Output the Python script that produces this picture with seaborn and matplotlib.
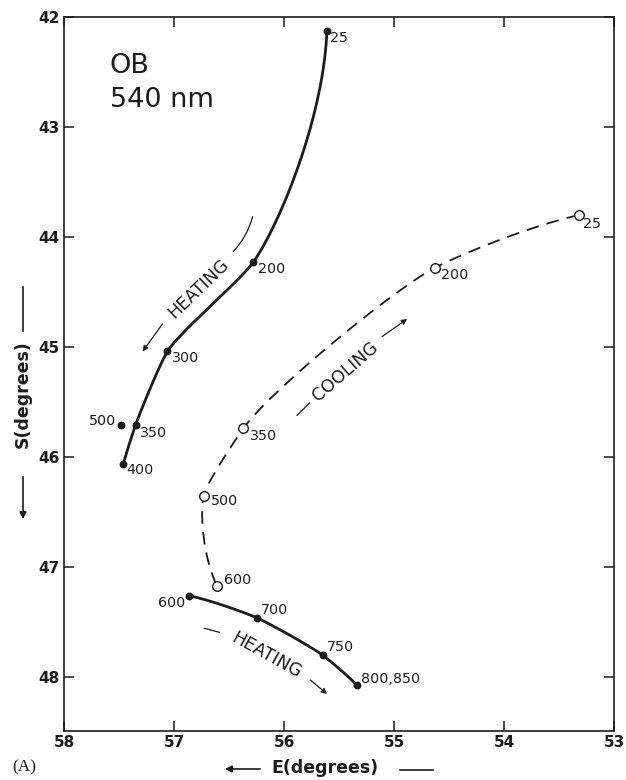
import numpy as np
import pandas as pd
import matplotlib
matplotlib.use("Agg")
import matplotlib.pyplot as plt
import seaborn as sns

# ---------------- data ----------------
heat1_T = ["25", "200", "300", "350", "400"]
heat1_E = [55.61, 56.28, 57.06, 57.35, 57.46]
heat1_S = [42.13, 44.23, 45.04, 45.71, 46.06]

iso_T = ["500"]
iso_E = [57.48]
iso_S = [45.71]

cool_T = ["25", "200", "350", "500", "600"]
cool_E = [53.32, 54.63, 56.37, 56.73, 56.61]
cool_S = [43.80, 44.28, 45.74, 46.35, 47.17]

heat2_T = ["600", "700", "750", "800,850"]
heat2_E = [56.86, 56.25, 55.65, 55.34]
heat2_S = [47.26, 47.46, 47.80, 48.07]

x_ticks = [58, 57, 56, 55, 54, 53]
y_ticks = [42, 43, 44, 45, 46, 47, 48]

# label offsets in pixels (dx right, dy down)
heat1_off = [(3, 7), (5, 7), (5, 7), (4, 8), (3, 6)]
iso_off = [(-5, -4)]
cool_off = [(4, 9), (6, 7), (7, 8), (7, 5), (7, -6)]
heat2_off = [(-4, 7), (4, -8), (4, -8), (4, -6)]

INK = "#1c1c1c"


def smooth(E, S, n=40, tension=0.55):
    P = np.column_stack([E, S]).astype(float)
    d = np.linalg.norm(np.diff(P, axis=0), axis=1)
    sl = np.diff(P, axis=0) / d[:, None]
    m = np.zeros_like(P)
    for i in range(1, len(P) - 1):
        h0, h1 = d[i - 1], d[i]
        m[i] = tension * (h1 * sl[i - 1] + h0 * sl[i]) / (h0 + h1)
    if len(P) > 2:
        m[0] = sl[0] + (sl[0] - sl[1]) * d[0] / (d[0] + d[1])
        m[-1] = sl[-1] + (sl[-1] - sl[-2]) * d[-1] / (d[-2] + d[-1])
    else:
        m[0] = m[-1] = sl[0]
    out = []
    u = np.linspace(0, 1, n)[:, None]
    h00 = 2 * u**3 - 3 * u**2 + 1
    h10 = u**3 - 2 * u**2 + u
    h01 = -2 * u**3 + 3 * u**2
    h11 = u**3 - u**2
    for i in range(len(P) - 1):
        h = d[i]
        seg = h00 * P[i] + h10 * h * m[i] + h01 * P[i + 1] + h11 * h * m[i + 1]
        out.append(seg if i == 0 else seg[1:])
    out = np.vstack(out)
    return pd.DataFrame({"E": out[:, 0], "S": out[:, 1]})


sns.set_theme(style="ticks")
plt.rcParams["font.family"] = ["DejaVu Sans"]

fig = plt.figure(figsize=(6.26, 7.8), dpi=100)
ax = fig.add_axes([64 / 626, 1 - 731 / 780, 550 / 626, 714 / 780])

# curves
c1 = smooth(heat1_E, heat1_S)
sns.lineplot(data=c1, x="E", y="S", sort=False, estimator=None, ax=ax,
             color=INK, lw=2.0, zorder=2)
c2 = smooth(heat2_E, heat2_S)
sns.lineplot(data=c2, x="E", y="S", sort=False, estimator=None, ax=ax,
             color=INK, lw=2.0, zorder=2)
c3 = smooth(cool_E, cool_S)
sns.lineplot(data=c3, x="E", y="S", sort=False, estimator=None, ax=ax,
             color=INK, lw=1.3, linestyle=(0, (7, 4.5)), zorder=2)

# markers
sns.scatterplot(x=heat1_E + iso_E + heat2_E, y=heat1_S + iso_S + heat2_S, ax=ax,
                color=INK, s=32, edgecolor=INK, linewidth=0, zorder=4)
sns.scatterplot(x=cool_E, y=cool_S, ax=ax, color="white", s=48,
                edgecolor=INK, linewidth=1.0, zorder=4)


def labels(T, E, S, offs):
    for t, e, s, (dx, dy) in zip(T, E, S, offs):
        ax.annotate(t, (e, s), xytext=(dx, -dy), textcoords="offset pixels",
                    ha="left" if dx > 0 else "right", va="center",
                    fontsize=10.3, color=INK, zorder=5)


labels(heat1_T, heat1_E, heat1_S, heat1_off)
labels(iso_T, iso_E, iso_S, iso_off)
labels(cool_T, cool_E, cool_S, cool_off)
labels(heat2_T, heat2_E, heat2_S, heat2_off)

# direction annotations
arrow_kw = dict(arrowstyle="-|>", color=INK, lw=0.9, mutation_scale=8)
line_kw = dict(arrowstyle="-", color=INK, lw=0.9)

ax.text(56.78, 44.47, "HEATING", rotation=44, rotation_mode="anchor",
        ha="center", va="center", fontsize=12.5, color=INK)
ax.annotate("", xy=(56.48, 44.15), xytext=(56.28, 43.79),
            arrowprops=dict(**line_kw, connectionstyle="arc3,rad=-0.15"))
ax.annotate("", xy=(57.30, 45.06), xytext=(57.09, 44.77), arrowprops=arrow_kw)

ax.text(55.44, 45.22, "COOLING", rotation=41, rotation_mode="anchor",
        ha="center", va="center", fontsize=12.5, color=INK)
ax.annotate("", xy=(55.75, 45.49), xytext=(55.90, 45.64), arrowprops=line_kw)
ax.annotate("", xy=(54.86, 44.73), xytext=(55.13, 44.92), arrowprops=arrow_kw)

ax.text(56.16, 47.80, "HEATING", rotation=-29, rotation_mode="anchor",
        ha="center", va="center", fontsize=12.5, color=INK)
ax.annotate("", xy=(56.56, 47.60), xytext=(56.75, 47.55), arrowprops=line_kw)
ax.annotate("", xy=(55.59, 48.17), xytext=(55.78, 48.01), arrowprops=arrow_kw)

# title block
ax.text(0.0836, 0.9216, "OB", transform=ax.transAxes, fontsize=19.5,
        ha="left", va="baseline", color=INK)
ax.text(0.0836, 0.874, "540 nm", transform=ax.transAxes, fontsize=19.5,
        ha="left", va="baseline", color=INK)

# axes
ax.set_xlim(58, 53)
ax.set_ylim(48.49, 42)
ax.set_xticks(x_ticks)
ax.set_yticks(y_ticks)
ax.set_xticklabels([str(v) for v in x_ticks], fontsize=11, fontweight="bold", color=INK)
ax.set_yticklabels([str(v) for v in y_ticks], fontsize=11, fontweight="bold", color=INK)
ax.tick_params(direction="in", length=7, width=1.1, top=True, right=True,
               labeltop=False, labelright=False, pad=3, colors=INK)
for sp in ax.spines.values():
    sp.set_visible(True)
    sp.set_linewidth(1.2)
    sp.set_color(INK)
ax.set_xlabel("")
ax.set_ylabel("")

# axis labels with arrows (figure pixels)
fig.text(325 / 626, 1 - 768 / 780, "E(degrees)", ha="center", va="center",
         fontsize=12.5, fontweight="bold", color=INK)
fig.text(23 / 626, 1 - 394 / 780, "S(degrees)", ha="center", va="center",
         rotation=90, fontsize=12.5, fontweight="bold", color=INK)
fig.text(12 / 626, 1 - 767 / 780, "(A)", ha="left", va="center",
         fontsize=12.5, family="Liberation Serif", color=INK)

fa = dict(xycoords="figure pixels", textcoords="figure pixels")
ax.annotate("", xy=(222, 780 - 769), xytext=(263, 780 - 769),
            arrowprops=dict(arrowstyle="-|>", color=INK, lw=1.2, mutation_scale=10), **fa)
ax.annotate("", xy=(436, 780 - 770), xytext=(397, 780 - 770),
            arrowprops=dict(arrowstyle="-", color=INK, lw=1.2), **fa)
ax.annotate("", xy=(23, 780 - 522), xytext=(23, 780 - 474),
            arrowprops=dict(arrowstyle="-|>", color=INK, lw=1.2, mutation_scale=10), **fa)
ax.annotate("", xy=(23, 780 - 284), xytext=(23, 780 - 334),
            arrowprops=dict(arrowstyle="-", color=INK, lw=1.2), **fa)

fig.savefig("out.png", dpi=100, facecolor="white")
